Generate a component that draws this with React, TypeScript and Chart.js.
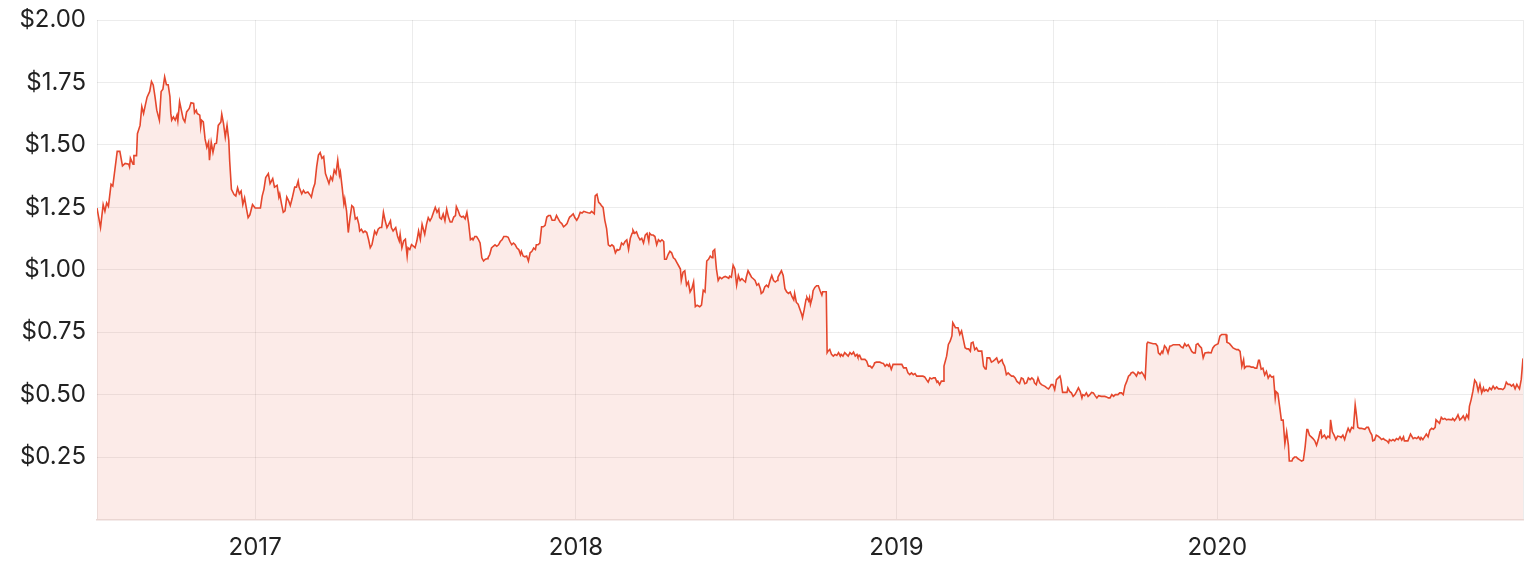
import React, { useEffect, useRef } from 'react';
import { Chart, registerables } from 'chart.js';

Chart.register(...registerables);

// Day offsets are counted from this date.
const START_DATE = '2016-07-01';
const yearLabels = ['2017', '2018', '2019', '2020'];
const yTickValues = [0, 0.25, 0.5, 0.75, 1, 1.25, 1.5, 1.75, 2];

const dayOffsets = [
  4, 8, 11, 13, 15, 17, 20, 22, 27, 30,
  33, 36, 40, 41, 42, 45, 46, 49, 50, 53,
  55, 57, 59, 61, 64, 66, 68, 70, 72, 75,
  77, 79, 81, 83, 85, 87, 88, 89, 91, 93,
  95, 96, 98, 100, 102, 104, 106, 109, 111, 114,
  115, 117, 118, 121, 122, 123, 125, 127, 129, 131,
  132, 134, 136, 138, 140, 142, 145, 146, 148, 150,
  152, 154, 155, 157, 160, 162, 164, 166, 168, 170,
  172, 174, 176, 178, 181, 184, 188, 190, 192, 194,
  196, 199, 201, 204, 206, 209, 211, 212, 214, 216,
  218, 220, 222, 224, 226, 229, 231, 233, 234, 237,
  239, 241, 244, 247, 248, 250, 252, 254, 256, 258,
  260, 262, 264, 266, 268, 270, 272, 274, 276, 278,
  280, 281, 283, 285, 286, 288, 290, 292, 294, 296,
  298, 300, 302, 303, 305, 307, 309, 311, 313, 315,
  317, 320, 322, 324, 326, 328, 330, 332, 334, 336,
  338, 339, 341, 344, 346, 348, 349, 351, 353, 355,
  357, 358, 360, 362, 364, 366, 368, 370, 372, 374,
  376, 377, 379, 381, 383, 385, 387, 389, 391, 393,
  394, 396, 398, 400, 402, 404, 406, 408, 410, 412,
  413, 415, 417, 419, 421, 423, 425, 427, 429, 431,
  432, 434, 436, 438, 440, 442, 444, 446, 448, 449,
  451, 453, 455, 457, 459, 461, 463, 465, 467, 470,
  472, 474, 476, 478, 480, 482, 484, 486, 487, 489,
  491, 493, 495, 497, 499, 501, 503, 504, 506, 508,
  510, 512, 514, 516, 518, 520, 522, 523, 525, 527,
  529, 531, 533, 535, 537, 539, 541, 542, 544, 546,
  548, 550, 552, 554, 556, 558, 561, 563, 565, 567,
  570, 571, 573, 575, 577, 578, 580, 582, 584, 586,
  588, 590, 592, 594, 596, 597, 599, 601, 603, 605,
  607, 609, 611, 613, 614, 616, 618, 620, 622, 624,
  626, 628, 630, 632, 633, 635, 637, 639, 641, 643,
  645, 647, 649, 650, 652, 654, 656, 658, 660, 662,
  664, 666, 668, 669, 671, 673, 675, 677, 679, 681,
  683, 685, 687, 688, 690, 692, 694, 696, 698, 700,
  702, 704, 705, 707, 709, 711, 713, 715, 717, 719,
  721, 723, 724, 726, 728, 730, 732, 734, 736, 738,
  740, 742, 743, 745, 747, 749, 751, 753, 755, 757,
  759, 760, 762, 764, 766, 768, 770, 772, 774, 776,
  778, 779, 781, 783, 785, 787, 789, 791, 793, 795,
  797, 798, 800, 802, 804, 806, 807, 809, 811, 812,
  814, 815, 816, 818, 819, 821, 823, 825, 827, 829,
  830, 832, 834, 835, 836, 838, 840, 842, 844, 846,
  848, 850, 851, 853, 855, 857, 859, 861, 863, 865,
  867, 869, 870, 872, 874, 876, 878, 880, 882, 884,
  886, 888, 889, 891, 895, 897, 899, 901, 903, 905,
  906, 908, 910, 914, 918, 920, 922, 925, 927, 929,
  931, 933, 935, 937, 941, 944, 946, 948, 950, 952,
  954, 956, 958, 960, 961, 963, 965, 967, 968, 971,
  973, 975, 977, 978, 979, 981, 984, 986, 988, 990,
  992, 994, 996, 998, 999, 1001, 1003, 1005, 1007, 1011,
  1013, 1015, 1016, 1017, 1020, 1022, 1024, 1026, 1028, 1030,
  1032, 1034, 1035, 1037, 1039, 1041, 1043, 1045, 1047, 1049,
  1051, 1053, 1054, 1056, 1058, 1060, 1062, 1064, 1066, 1068,
  1070, 1071, 1073, 1075, 1077, 1079, 1083, 1085, 1087, 1089,
  1090, 1092, 1094, 1096, 1098, 1100, 1101, 1103, 1106, 1108,
  1109, 1111, 1113, 1115, 1117, 1119, 1121, 1123, 1125, 1126,
  1128, 1130, 1132, 1134, 1136, 1138, 1140, 1142, 1144, 1147,
  1151, 1153, 1155, 1157, 1159, 1161, 1163, 1164, 1166, 1168,
  1170, 1172, 1174, 1176, 1178, 1180, 1181, 1183, 1185, 1187,
  1189, 1191, 1193, 1195, 1197, 1199, 1200, 1203, 1206, 1209,
  1211, 1212, 1214, 1216, 1217, 1219, 1221, 1223, 1225, 1227,
  1229, 1233, 1236, 1238, 1240, 1242, 1244, 1246, 1248, 1250,
  1252, 1254, 1255, 1257, 1259, 1261, 1263, 1265, 1269, 1272,
  1274, 1276, 1278, 1280, 1282, 1284, 1288, 1289, 1290, 1293,
  1295, 1297, 1301, 1303, 1305, 1307, 1309, 1310, 1312, 1316,
  1318, 1320, 1322, 1324, 1326, 1327, 1329, 1331, 1333, 1335,
  1337, 1339, 1341, 1343, 1345, 1346, 1348, 1350, 1352, 1354,
  1356, 1358, 1360, 1361, 1364, 1365, 1367, 1369, 1371, 1373,
  1375, 1377, 1379, 1381, 1382, 1384, 1386, 1388, 1390, 1392,
  1394, 1396, 1397, 1398, 1401, 1403, 1405, 1407, 1408, 1410,
  1412, 1414, 1416, 1419, 1420, 1422, 1424, 1426, 1428, 1430,
  1432, 1434, 1436, 1437, 1439, 1441, 1443, 1447, 1449, 1451,
  1453, 1455, 1456, 1458, 1460, 1462, 1464, 1466, 1468, 1470,
  1472, 1474, 1475, 1477, 1479, 1481, 1483, 1485, 1487, 1489,
  1491, 1492, 1496, 1499, 1502, 1504, 1506, 1508, 1510, 1511,
  1513, 1515, 1517, 1519, 1521, 1523, 1525, 1527, 1528, 1530,
  1532, 1534, 1536, 1538, 1540, 1542, 1546, 1547, 1549, 1551,
  1553, 1555, 1557, 1559, 1561, 1563, 1565, 1566, 1568, 1570,
  1572, 1574, 1576, 1578, 1580, 1582, 1583, 1585, 1587, 1589,
  1591, 1593, 1595, 1597, 1599, 1602, 1604, 1606, 1608, 1610,
  1612, 1614, 1616, 1618, 1620, 1621, 1623, 1625, 1627,
];

const prices = [
  1.247, 1.169, 1.261, 1.234, 1.268, 1.254, 1.342, 1.335, 1.474, 1.474,
  1.416, 1.426, 1.423, 1.412, 1.447, 1.423, 1.457, 1.457, 1.545, 1.578,
  1.653, 1.626, 1.659, 1.691, 1.714, 1.754, 1.74, 1.693, 1.639, 1.599,
  1.714, 1.723, 1.772, 1.741, 1.741, 1.693, 1.626, 1.599, 1.612, 1.599,
  1.619, 1.596, 1.673, 1.639, 1.605, 1.592, 1.632, 1.646, 1.669, 1.666,
  1.628, 1.639, 1.626, 1.619, 1.572, 1.599, 1.592, 1.524, 1.49, 1.511,
  1.439, 1.511, 1.47, 1.504, 1.507, 1.578, 1.592, 1.623, 1.585, 1.531,
  1.578, 1.518, 1.436, 1.322, 1.301, 1.295, 1.328, 1.304, 1.315, 1.261,
  1.288, 1.247, 1.209, 1.22, 1.261, 1.247, 1.247, 1.247, 1.295, 1.322,
  1.369, 1.385, 1.345, 1.365, 1.331, 1.338, 1.291, 1.304, 1.264, 1.23,
  1.236, 1.291, 1.277, 1.257, 1.284, 1.331, 1.331, 1.355, 1.331, 1.304,
  1.318, 1.307, 1.311, 1.297, 1.291, 1.324, 1.345, 1.412, 1.459, 1.469,
  1.446, 1.453, 1.385, 1.365, 1.345, 1.372, 1.358, 1.399, 1.385, 1.439,
  1.378, 1.392, 1.331, 1.264, 1.284, 1.236, 1.149, 1.209, 1.257, 1.25,
  1.203, 1.209, 1.182, 1.155, 1.162, 1.149, 1.155, 1.149, 1.122, 1.088,
  1.101, 1.155, 1.142, 1.162, 1.169, 1.169, 1.23, 1.196, 1.169, 1.182,
  1.196, 1.169, 1.155, 1.169, 1.135, 1.115, 1.142, 1.088, 1.115, 1.122,
  1.054, 1.088, 1.081, 1.101, 1.095, 1.088, 1.115, 1.155, 1.122, 1.182,
  1.155, 1.142, 1.182, 1.209, 1.196, 1.209, 1.23, 1.25, 1.23, 1.243,
  1.209, 1.203, 1.223, 1.196, 1.243, 1.211, 1.191, 1.191, 1.211, 1.217,
  1.253, 1.237, 1.217, 1.211, 1.214, 1.204, 1.23, 1.185, 1.12, 1.126,
  1.12, 1.133, 1.133, 1.122, 1.107, 1.048, 1.035, 1.042, 1.044, 1.048,
  1.061, 1.087, 1.094, 1.1, 1.094, 1.1, 1.113, 1.12, 1.133, 1.133,
  1.13, 1.113, 1.1, 1.107, 1.1, 1.087, 1.081, 1.061, 1.074, 1.055,
  1.052, 1.055, 1.035, 1.068, 1.074, 1.087, 1.081, 1.1, 1.1, 1.107,
  1.172, 1.172, 1.178, 1.211, 1.217, 1.217, 1.198, 1.198, 1.198, 1.217,
  1.204, 1.191, 1.185, 1.172, 1.178, 1.185, 1.204, 1.211, 1.217, 1.224,
  1.208, 1.198, 1.211, 1.23, 1.227, 1.234, 1.23, 1.228, 1.227, 1.234,
  1.224, 1.296, 1.302, 1.27, 1.263, 1.257, 1.25, 1.198, 1.165, 1.1,
  1.094, 1.1, 1.094, 1.068, 1.081, 1.078, 1.081, 1.107, 1.1, 1.113,
  1.12, 1.081, 1.126, 1.146, 1.159, 1.146, 1.152, 1.133, 1.12, 1.126,
  1.107, 1.139, 1.146, 1.113, 1.146, 1.139, 1.139, 1.133, 1.1, 1.12,
  1.113, 1.12, 1.113, 1.042, 1.042, 1.061, 1.074, 1.068, 1.048, 1.042,
  1.029, 1.016, 1.003, 0.957, 0.99, 0.996, 0.938, 0.951, 0.911, 0.924,
  0.951, 0.852, 0.858, 0.856, 0.852, 0.858, 0.918, 0.911, 1.035, 1.042,
  1.055, 1.048, 1.074, 1.081, 1.003, 0.957, 0.97, 0.964, 0.97, 0.973,
  0.97, 0.966, 0.974, 0.97, 1.018, 1.003, 0.938, 0.977, 0.957, 0.964,
  0.957, 0.951, 0.97, 0.996, 0.983, 0.97, 0.964, 0.957, 0.938, 0.944,
  0.924, 0.905, 0.911, 0.931, 0.938, 0.931, 0.957, 0.977, 0.957, 0.951,
  0.957, 0.97, 0.983, 0.996, 0.977, 0.924, 0.911, 0.905, 0.911, 0.892,
  0.879, 0.905, 0.869, 0.862, 0.842, 0.822, 0.808, 0.842, 0.882, 0.889,
  0.875, 0.889, 0.862, 0.889, 0.916, 0.929, 0.936, 0.936, 0.916, 0.898,
  0.912, 0.912, 0.912, 0.668, 0.674, 0.681, 0.661, 0.654, 0.661, 0.657,
  0.668, 0.654, 0.661, 0.654, 0.668, 0.661, 0.654, 0.668, 0.661, 0.67,
  0.654, 0.661, 0.651, 0.657, 0.641, 0.641, 0.641, 0.634, 0.614, 0.614,
  0.607, 0.617, 0.627, 0.63, 0.63, 0.627, 0.625, 0.614, 0.621, 0.614,
  0.621, 0.601, 0.621, 0.621, 0.621, 0.621, 0.607, 0.607, 0.587, 0.58,
  0.587, 0.58, 0.584, 0.574, 0.574, 0.574, 0.571, 0.56, 0.55, 0.567,
  0.563, 0.567, 0.567, 0.55, 0.554, 0.54, 0.554, 0.554, 0.614, 0.654,
  0.701, 0.714, 0.735, 0.788, 0.782, 0.768, 0.768, 0.741, 0.755, 0.721,
  0.688, 0.683, 0.683, 0.674, 0.707, 0.71, 0.68, 0.687, 0.674, 0.674,
  0.614, 0.603, 0.603, 0.647, 0.647, 0.63, 0.634, 0.64, 0.647, 0.627,
  0.634, 0.64, 0.627, 0.614, 0.58, 0.587, 0.58, 0.574, 0.574, 0.567,
  0.553, 0.547, 0.544, 0.567, 0.563, 0.544, 0.547, 0.567, 0.56, 0.567,
  0.56, 0.547, 0.54, 0.567, 0.547, 0.54, 0.533, 0.527, 0.523, 0.533,
  0.54, 0.54, 0.52, 0.56, 0.567, 0.574, 0.56, 0.509, 0.509, 0.509,
  0.527, 0.513, 0.507, 0.493, 0.5, 0.513, 0.527, 0.513, 0.487, 0.5,
  0.496, 0.507, 0.493, 0.5, 0.509, 0.507, 0.496, 0.487, 0.496, 0.493,
  0.493, 0.491, 0.487, 0.487, 0.5, 0.493, 0.5, 0.5, 0.5, 0.507,
  0.507, 0.5, 0.536, 0.553, 0.574, 0.58, 0.587, 0.59, 0.584, 0.574,
  0.59, 0.584, 0.59, 0.58, 0.566, 0.704, 0.71, 0.707, 0.704, 0.704,
  0.694, 0.667, 0.66, 0.673, 0.667, 0.696, 0.687, 0.667, 0.694, 0.696,
  0.7, 0.7, 0.7, 0.691, 0.687, 0.704, 0.694, 0.7, 0.687, 0.673,
  0.667, 0.667, 0.7, 0.704, 0.694, 0.687, 0.647, 0.667, 0.669, 0.667,
  0.687, 0.696, 0.7, 0.704, 0.734, 0.741, 0.741, 0.741, 0.71, 0.704,
  0.696, 0.687, 0.68, 0.68, 0.673, 0.613, 0.64, 0.606, 0.613, 0.613,
  0.61, 0.61, 0.606, 0.606, 0.637, 0.637, 0.602, 0.606, 0.579, 0.593,
  0.566, 0.579, 0.57, 0.573, 0.485, 0.512, 0.505, 0.452, 0.398, 0.398,
  0.304, 0.351, 0.297, 0.234, 0.234, 0.243, 0.25, 0.25, 0.243, 0.239,
  0.234, 0.237, 0.29, 0.36, 0.36, 0.337, 0.331, 0.324, 0.315, 0.297,
  0.32, 0.351, 0.361, 0.328, 0.338, 0.324, 0.334, 0.328, 0.399, 0.351,
  0.338, 0.32, 0.334, 0.331, 0.328, 0.338, 0.32, 0.345, 0.365, 0.351,
  0.369, 0.365, 0.459, 0.432, 0.369, 0.365, 0.365, 0.361, 0.369, 0.369,
  0.351, 0.338, 0.315, 0.318, 0.338, 0.334, 0.328, 0.32, 0.324, 0.318,
  0.315, 0.307, 0.32, 0.315, 0.32, 0.315, 0.324, 0.32, 0.331, 0.318,
  0.331, 0.315, 0.315, 0.342, 0.324, 0.328, 0.324, 0.331, 0.32, 0.328,
  0.32, 0.331, 0.342, 0.331, 0.358, 0.365, 0.361, 0.369, 0.399, 0.392,
  0.385, 0.409, 0.401, 0.405, 0.399, 0.401, 0.399, 0.405, 0.396, 0.405,
  0.419, 0.399, 0.405, 0.415, 0.399, 0.419, 0.405, 0.453, 0.48, 0.514,
  0.558, 0.547, 0.514, 0.541, 0.507, 0.527, 0.514, 0.52, 0.514, 0.527,
  0.52, 0.534, 0.523, 0.531, 0.523, 0.523, 0.52, 0.527, 0.55, 0.541,
  0.541, 0.534, 0.541, 0.523, 0.541, 0.534, 0.523, 0.561, 0.645,
];

const DAY_MS = 86400000;
const dayOf = (iso: string) =>
  Math.round((Date.parse(iso + 'T00:00:00Z') - Date.parse(START_DATE + 'T00:00:00Z')) / DAY_MS);

const FONT = "Inter, 'Open Sans', sans-serif";
const GRID = 'rgba(0,0,0,0.075)';

export default function App() {
  const ref = useRef<HTMLCanvasElement>(null);

  useEffect(() => {
    if (!ref.current) return;
    const n = Math.min(dayOffsets.length, prices.length);
    const points = [];
    for (let i = 0; i < n; i++) points.push({ x: dayOffsets[i], y: prices[i] });

    const xMin = dayOffsets[0];
    const xMax = dayOffsets[n - 1];
    const labelMap = new Map<number, string>();
    const grid: number[] = [xMin, xMax];
    yearLabels.forEach((y) => {
      const d = dayOf(`${y}-01-01`);
      labelMap.set(d, y);
      grid.push(d);
      grid.push(dayOf(`${y}-06-29`));
    });
    grid.sort((a, b) => a - b);

    const chart = new Chart(ref.current, {
      type: 'line',
      data: {
        datasets: [
          {
            data: points,
            borderColor: '#e5472d',
            borderWidth: 1.6,
            backgroundColor: 'rgba(229,72,45,0.11)',
            fill: 'origin',
            pointRadius: 0,
            pointHoverRadius: 0,
            tension: 0,
          },
        ],
      },
      options: {
        responsive: false,
        animation: false,
        parsing: false,
        normalized: true,
        events: [],
        layout: { padding: { top: 0, right: 3, left: 0, bottom: 0 } },
        plugins: { legend: { display: false }, tooltip: { enabled: false } },
        scales: {
          x: {
            type: 'linear',
            min: xMin,
            max: xMax,
            afterBuildTicks: (s: any) => {
              s.ticks = grid.map((v) => ({ value: v }));
            },
            afterFit: (s: any) => {
              s.height = 40.5;
              s.paddingLeft = 0;
              s.paddingRight = 0;
            },
            grid: { color: GRID, lineWidth: 1, drawTicks: false },
            border: { display: true, color: '#ead8d5', width: 1.5 },
            ticks: {
              autoSkip: false,
              maxRotation: 0,
              padding: 14,
              color: '#222',
              font: { family: FONT, size: 24 },
              callback: (v: any) => labelMap.get(Number(v)) ?? '',
            },
          },
          y: {
            type: 'linear',
            min: 0,
            max: 2,
            afterBuildTicks: (s: any) => {
              s.ticks = yTickValues.map((v) => ({ value: v }));
            },
            afterFit: (s: any) => {
              s.width = 89;
              s.paddingTop = 12;
              s.paddingBottom = 0;
            },
            grid: {
              color: (ctx: any) => (ctx.tick && ctx.tick.value === 0 ? 'rgba(0,0,0,0)' : GRID),
              lineWidth: 1,
              drawTicks: false,
            },
            border: { display: false },
            ticks: {
              padding: 11,
              color: '#222',
              font: { family: FONT, size: 24 },
              callback: (v: any) => (Number(v) === 0 ? '' : '$' + Number(v).toFixed(2)),
            },
          },
        },
      },
    });
    return () => chart.destroy();
  }, []);

  return (
    <div style={{ width: 1518, height: 552 }}>
      <canvas ref={ref} width={1518} height={552} style={{ display: 'block' }} />
    </div>
  );
}
